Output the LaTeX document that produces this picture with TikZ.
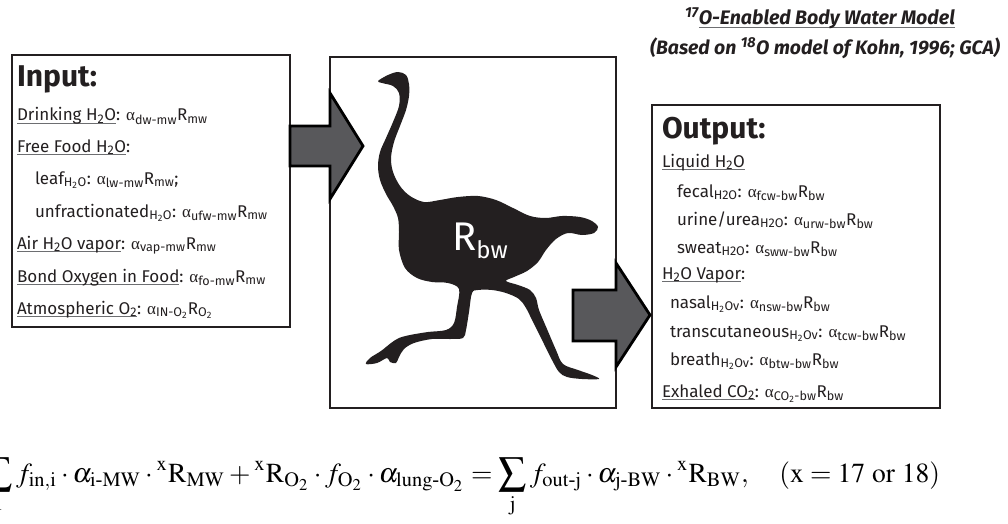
\documentclass[tikz,border=0pt]{standalone}
\usepackage{amsmath}
\usepackage{graphicx}
\usepackage{mathptmx}
\usepackage{fontspec}
\setmainfont{Liberation Serif}
\newfontfamily\sans{Fira Sans}
\usetikzlibrary{calc}

\definecolor{ink}{HTML}{231F20}
\definecolor{arrowgray}{HTML}{58585B}
\definecolor{rulegray}{HTML}{6D6E71}

% underline at a fixed depth below the baseline
\newsavebox\ulbox
\newcommand\ulin[1]{\sbox\ulbox{#1}\rlap{\textcolor{rulegray}{\rule[-2.8pt]{\wd\ulbox}{0.9pt}}}\usebox\ulbox}
\newcommand\alp{\textrm{α}}
\newcommand\sub[1]{\textsubscript{#1}}

\tikzset{
  box/.style={draw=ink, line width=2.6, outer sep=0, inner sep=0, anchor=north west},
  txt/.style={anchor=base west, inner sep=0, outer sep=0, text=ink,
              font=\sans\fontsize{17}{20}\selectfont},
  hdr/.style={anchor=base west, inner sep=0, outer sep=0, text=ink,
              font=\sans\bfseries\fontsize{30}{34}\selectfont},
  ttl/.style={anchor=base west, inner sep=0, outer sep=0, text=ink,
              font=\sans\bfseries\itshape\fontsize{17}{20}\selectfont},
  blockarrow/.style={fill=arrowgray, draw=black, line width=2.8, line join=miter},
  eqn/.style={anchor=base west, inner sep=0, outer sep=0, text=black,
              font=\fontsize{10}{12}\selectfont},
}

\begin{document}
\begin{tikzpicture}[x=1pt, y=-1pt]
\useasboundingbox (0,0) rectangle (1008,524);

% title
\node[ttl] (t1) at (685,25) {\resizebox{270pt}{!}{\textsuperscript{17}\ulin{O-Enabled Body Water Model}}};
\node[ttl] (t2) at (650,55) {\resizebox{350pt}{!}{(Based on \textsuperscript{18}O model of Kohn, 1996; GCA)}};

% the three boxes
\node[box, minimum width=278, minimum height=272] (input) at (12,55) {};
\node[box, line width=2, minimum width=286, minimum height=351] (body) at (330,57) {};
\node[box, minimum width=288, minimum height=303] (output) at (652,105) {};

% input list
\node[hdr] (inhead) at (17,87) {Input:};
\node[txt] (in1) at (17,121) {\ulin{Drinking H\sub{2}O}: \alp\sub{dw-mw}R\sub{mw}};
\node[txt] (in2) at (17,152) {\ulin{Free Food H\sub{2}O}:};
\node[txt] (in3) at (35,184) {leaf\sub{H\sub{2}O}: \alp\sub{lw-mw}R\sub{mw};};
\node[txt] (in4) at (35,217) {unfractionated\sub{H\sub{2}O}: \alp\sub{ufw-mw}R\sub{mw}};
\node[txt] (in5) at (17,249) {\ulin{Air H\sub{2}O vapor}: \alp\sub{vap-mw}R\sub{mw}};
\node[txt] (in6) at (17,282) {\ulin{Bond Oxygen in Food}: \alp\sub{fo-mw}R\sub{mw}};
\node[txt] (in7) at (17,314) {\ulin{Atmospheric O\sub{2}}: \alp\sub{IN-O\sub{2}}R\sub{O\sub{2}}};

% output list
\node[hdr] (outhead) at (662,138) {Output:};
\node[txt] (out1) at (662,167) {\ulin{Liquid H\sub{2}O}};
\node[txt] (out2) at (677,197) {fecal\sub{H2O}: \alp\sub{fcw-bw}R\sub{bw}};
\node[txt] (out3) at (677,225) {urine/urea\sub{H2O}: \alp\sub{urw-bw}R\sub{bw}};
\node[txt] (out4) at (677,253) {sweat\sub{H2O}: \alp\sub{sww-bw}R\sub{bw}};
\node[txt] (out5) at (662,279) {\ulin{H\sub{2}O Vapor}:};
\node[txt] (out6) at (670,308) {nasal\sub{H\sub{2}Ov}: \alp\sub{nsw-bw}R\sub{bw}};
\node[txt] (out7) at (670,337) {transcutaneous\sub{H\sub{2}Ov}: \alp\sub{tcw-bw}R\sub{bw}};
\node[txt] (out8) at (670,365) {breath\sub{H\sub{2}Ov}: \alp\sub{btw-bw}R\sub{bw}};
\node[txt] (out9) at (662,397) {\ulin{Exhaled CO\sub{2}}: \alp\sub{CO\sub{2}-bw}R\sub{bw}};

% running ostrich silhouette
\fill[ink] plot[smooth cycle, tension=0.55] coordinates {
  (378,81) (388,75) (398,72) (406,75) (409,84) (409,96) (406,110) (400,126)
  (394,142) (391,158) (393,172) (400,186) (410,196) (424,202) (440,200)
  (458,197) (478,196) (496,200) (513,208) (530,216) (546,218) (562,216)
  (580,217) (592,221) (598,227) (594,233) (582,235) (568,233) (556,239)
  (546,250) (538,262) (527,271) (514,277) (506,281)
  (518,285) (530,290) (536,298) (539,310) (547,329) (556,350) (563,364)
  (578,370) (592,375) (599,379) (582,379) (567,377) (559,372) (552,360)
  (543,342) (533,322) (526,308) (519,299) (506,293) (492,290) (478,290)
  (472,293) (469,312) (466,330) (463,338) (450,339) (432,339) (414,343)
  (404,349) (399,357) (396,363) (390,362) (387,358) (377,363) (366,364)
  (370,358) (381,351) (391,343) (399,338) (410,335) (428,332) (446,330)
  (454,323) (457,307) (459,289) (448,283) (432,282) (417,278) (405,268)
  (399,250) (399,232) (398,218) (393,206) (386,194) (380,180) (378,166)
  (380,152) (386,138) (393,122) (399,106) (399,93) (393,86) (382,83)};
\node[anchor=base west, inner sep=0, text=white, font=\sans\fontsize{40}{44}\selectfont]
  (rbw) at (452,250) {R\raisebox{-8pt}{\fontsize{24}{26}\selectfont bw}};

% block arrows between the boxes
\draw[blockarrow] (input.east |- 0,126) -- (body.west |- 0,126) -- (body.west |- 0,93)
  -- ($(body.west |- 0,146)+(33,0)$) -- (body.west |- 0,199) -- (body.west |- 0,166)
  -- (input.east |- 0,166) -- cycle;
\draw[blockarrow] ($(body.east |- 0,290)+(-43,0)$) -- (body.east |- 0,290) -- (body.east |- 0,263)
  -- ($(body.east |- 0,315)+(34,0)$) -- (body.east |- 0,367) -- (body.east |- 0,341)
  -- ($(body.east |- 0,341)+(-43,0)$) -- cycle;

% mass balance
\node[eqn] (eq) at (-15,482) {\resizebox{955pt}{!}{$\displaystyle
  \sum_{\mathrm{i}} f_{\mathrm{in,i}}\cdot\alpha_{\mathrm{i\text{-}MW}}\cdot{}^{\mathrm{x}}\mathrm{R}_{\mathrm{MW}}
  +{}^{\mathrm{x}}\mathrm{R}_{\mathrm{O}_2}\cdot f_{\mathrm{O}_2}\cdot\alpha_{\mathrm{lung\text{-}O}_2}
  =\sum_{\mathrm{j}} f_{\mathrm{out\text{-}j}}\cdot\alpha_{\mathrm{j\text{-}BW}}\cdot{}^{\mathrm{x}}\mathrm{R}_{\mathrm{BW}},
  \quad(\mathrm{x}=17\ \mathrm{or}\ 18)$}};
\end{tikzpicture}
\end{document}
